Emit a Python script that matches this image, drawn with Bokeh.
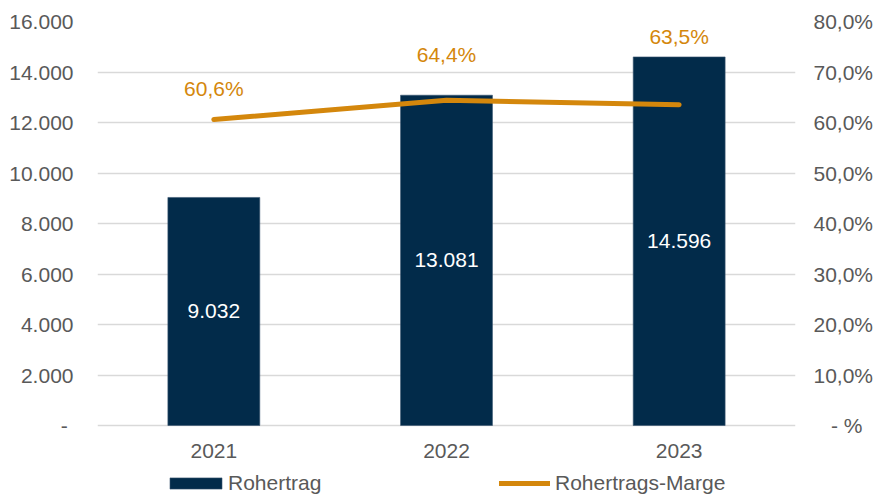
from bokeh.plotting import figure
from bokeh.models import (Range1d, LinearAxis, FixedTicker, Legend, LegendItem,
                          ColumnDataSource, FactorRange)
from bokeh.embed import file_html
from bokeh.resources import INLINE
from bokeh.core.properties import value

# ---- data ----
years = ["2021", "2022", "2023"]
rohertrag = [9032, 13081, 14596]
marge = [60.6, 64.4, 63.5]
rohertrag_labels = ["9.032", "13.081", "14.596"]
marge_labels = ["60,6%", "64,4%", "63,5%"]
left_ticks = [0, 2000, 4000, 6000, 8000, 10000, 12000, 14000, 16000]
left_tick_labels = ["-\u00a0", "2.000", "4.000", "6.000", "8.000", "10.000",
                    "12.000", "14.000", "16.000"]
right_ticks = [0, 10, 20, 30, 40, 50, 60, 70, 80]
right_tick_labels = ["\u00a0\u00a0\u00a0- %", "10,0%", "20,0%", "30,0%", "40,0%",
                     "50,0%", "60,0%", "70,0%", "80,0%"]
series_names = ["Rohertrag", "Rohertrags-Marge"]

# ---- style / layout ----
NAVY = "#022b4a"
ORANGE = "#d4870c"
GRAY = "#595959"
GRID = "#d9d9d9"
FONT = "Liberation Sans"
FS = "21px"
marge_label_offsets = [-30.5, -46, -68]   # screen px, label centre above point
year_label_offset = 25                    # screen px below the zero line
PLOT_H = 404     # px between 0 and the top tick
BELOW = 69       # px of frame kept below the zero line for year labels + legend

left_max = left_ticks[-1]
right_max = right_ticks[-1]

p = figure(width=876, height=494,
           x_range=FactorRange(factors=years, range_padding=0),
           y_range=Range1d(-left_max * BELOW / PLOT_H, left_max),
           x_axis_location=None,
           output_backend="svg", toolbar_location=None,
           min_border_left=97, min_border_right=81,
           min_border_top=21, min_border_bottom=0)
p.extra_y_ranges = {"pct": Range1d(-right_max * BELOW / PLOT_H, right_max)}
p.outline_line_color = None
p.background_fill_color = "white"
p.border_fill_color = "white"

# grids
p.xgrid.grid_line_color = None
p.ygrid.grid_line_color = GRID
p.ygrid.grid_line_width = 1.5
p.ygrid.ticker = FixedTicker(ticks=left_ticks)

def style_axis(ax, standoff):
    ax.axis_line_color = None
    ax.major_tick_line_color = None
    ax.minor_tick_line_color = None
    ax.major_tick_out = 0
    ax.major_tick_in = 0
    ax.minor_tick_out = 0
    ax.minor_tick_in = 0
    ax.major_label_standoff = standoff
    ax.major_label_text_font = FONT
    ax.major_label_text_font_size = FS
    ax.major_label_text_color = GRAY

ya = p.yaxis[0]
ya.ticker = FixedTicker(ticks=left_ticks)
ya.major_label_overrides = {t: l for t, l in zip(left_ticks, left_tick_labels)}
style_axis(ya, 24)

ra = LinearAxis(y_range_name="pct", ticker=FixedTicker(ticks=right_ticks))
ra.major_label_overrides = {t: l for t, l in zip(right_ticks, right_tick_labels)}
style_axis(ra, 18)
p.add_layout(ra, "right")

src = ColumnDataSource(dict(years=years, rohertrag=rohertrag,
                            half=[v / 2 for v in rohertrag],
                            zero=[0] * len(years),
                            rlab=rohertrag_labels, marge=marge, mlab=marge_labels,
                            moff=marge_label_offsets))

bars = p.vbar(x="years", top="rohertrag", width=0.395, source=src,
              fill_color=NAVY, line_color="#3a5570", line_width=0.6)
p.text(x="years", y="half", text="rlab", source=src,
       text_align="center", text_baseline="middle",
       text_font=value(FONT), text_font_size=FS, text_color="white")

line = p.line(x="years", y="marge", source=src, y_range_name="pct",
              line_color=ORANGE, line_width=5, line_cap="round", line_join="round")
p.text(x="years", y="marge", text="mlab", source=src, y_range_name="pct",
       y_offset="moff", text_align="center", text_baseline="middle",
       text_font=value(FONT), text_font_size=FS, text_color=ORANGE)

# category (year) labels under the zero line
p.text(x="years", y="zero", text="years", source=src,
       y_offset=year_label_offset, text_align="center", text_baseline="middle",
       text_font=value(FONT), text_font_size=FS, text_color=GRAY)

def make_legend(item, loc, gw, gh, standoff):
    return Legend(items=[item], location=loc, orientation="horizontal",
                  padding=0, margin=0, spacing=0, border_line_color=None,
                  background_fill_alpha=0, glyph_width=gw, glyph_height=gh,
                  label_standoff=standoff, label_text_font=FONT,
                  label_text_font_size=FS, label_text_color=GRAY,
                  label_height=20)

lg1 = make_legend(LegendItem(label=series_names[0], renderers=[bars]),
                  (66, -1), 65, 14, 0)
lg2 = make_legend(LegendItem(label=series_names[1], renderers=[line]),
                  (402, -1), 51, 14, 5)
p.add_layout(lg1, "center")
p.add_layout(lg2, "center")

open("out.html", "w").write(file_html(p, INLINE))
